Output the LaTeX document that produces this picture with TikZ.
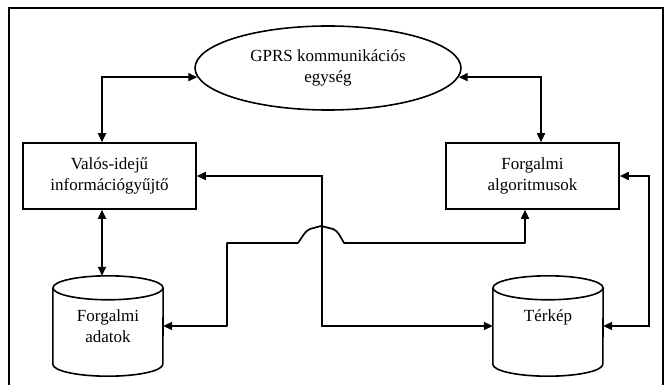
\documentclass[tikz,border=0pt]{standalone}
\usepackage{fontspec}
\setmainfont{Liberation Serif}
\usetikzlibrary{arrows.meta,shapes.geometric,calc}
\begin{document}
\begin{tikzpicture}[x=1pt,y=-1pt,
  every node/.style={font=\fontsize{17}{21}\selectfont, align=center, inner sep=0pt},
  box/.style={draw, line width=1.6pt, minimum width=173pt, minimum height=66pt},
  cyl/.style={minimum width=110pt, minimum height=100pt},
  cylline/.style={line width=1.6pt},
  dbl/.style={line width=1.7pt, {Triangle[length=9pt,width=8pt]}-{Triangle[length=9pt,width=8pt]}}]
\useasboundingbox (0,0) rectangle (666,385);
% frame
\draw[line width=1.3pt] (9,385) -- (9,8) -- (663,8) -- (663,385);
% nodes
\node[draw, ellipse, line width=1.6pt, minimum width=266pt, minimum height=84pt] (gprs) at (328,68) {GPRS kommunikációs\\egység};
\node[box] (lb) at (109.5,176) {Valós-idejű\\információgyűjtő};
\node[box] (rb) at (532.5,176) {Forgalmi\\algoritmusok};
\node[cyl] (fa) at (108,326) {Forgalmi\\adatok};
\node[cyl] (tk) at (548,326) {Térkép\\\mbox{}};
% cylinder outlines
\foreach \c in {fa,tk}{
  \draw[cylline] ($(\c.north)+(0,12)$) ellipse [x radius=55pt, y radius=12pt];
  \draw[cylline] ($(\c.north west)+(0,12)$) -- ($(\c.south west)+(0,-12)$)
     arc[start angle=180, end angle=360, x radius=55pt, y radius=12pt]
     -- ($(\c.north east)+(0,12)$);
}
% helper coordinates
\coordinate (xL) at (102,0);
\coordinate (xR) at (541,0);
\coordinate (xM) at (322,0);
\coordinate (xE) at (649,0);
\coordinate (xB) at (525,0);
\coordinate (b0) at (227,243);
\coordinate (b1) at (298,243);
\coordinate (b2) at (344,243);
% connectors
\draw[dbl] (gprs.184) -| (lb.north -| xL);
\draw[dbl] (gprs.-4) -| (rb.north -| xR);
\draw[dbl] (lb.south -| xL) -- (fa.north -| xL);
\draw[dbl] (lb.east) -| (xM |- tk.west) -- (tk.west);
\draw[dbl] (rb.east) -| (xE |- tk.east) -- (tk.east);
\draw[dbl, line join=round] (fa.east) -| (b0) -- (b1)
   .. controls (303,236) and (305,231) .. (310,229)
   -- (321,226) -- (333,229)
   .. controls (338,231) and (340,236) .. (b2)
   -| (rb.south -| xB);
\end{tikzpicture}
\end{document}
